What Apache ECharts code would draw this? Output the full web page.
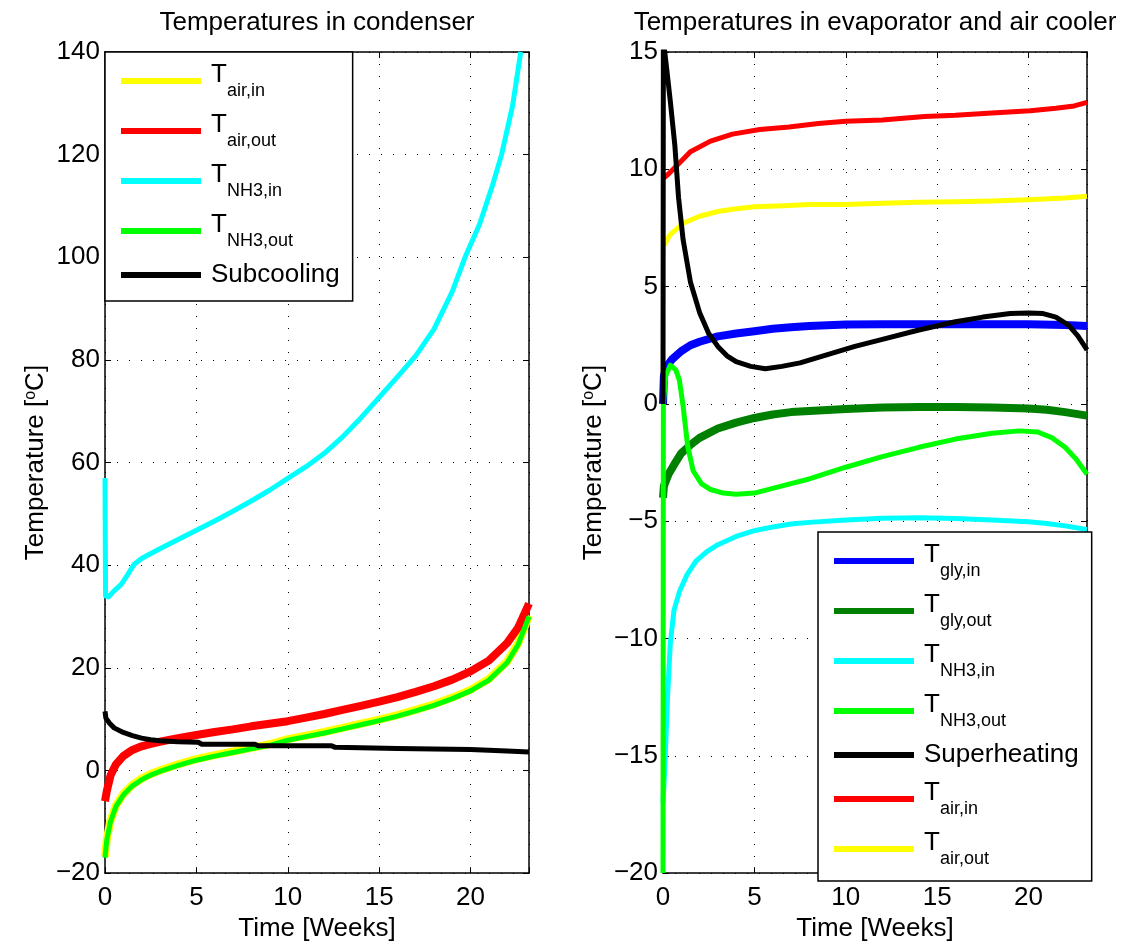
<!DOCTYPE html>
<html>
<head>
<meta charset="utf-8">
<title>Temperatures in condenser / evaporator</title>
<script src="https://cdn.jsdelivr.net/npm/echarts@6/dist/echarts.min.js"></script>
<style>
  html, body { margin: 0; padding: 0; background: #fff; }
  #chart { width: 1130px; height: 947px; }
</style>
</head>
<body>
<div id="chart"></div>
<script>
const FONT = "'Liberation Sans', Arial, Helvetica, sans-serif";

// axes
const weekTicks = [0, 5, 10, 15, 20];
const weekMax = 23.2;
const condRange = [-20, 140, 20];
const evapRange = [-20, 15, 5];

// condenser (left)
const condCyanTime = [0, 0.03, 0.18, 0.5, 0.9, 1.25, 1.6, 2, 3, 4, 5, 6, 7, 8, 9, 10, 11, 12, 13, 14, 15, 16, 17, 18, 19, 19.7, 20.5, 21.2, 21.7, 22.3, 22.75];
const condCyanVals = [57, 34, 33.8, 35, 36.3, 38.2, 40.2, 41.3, 43.2, 45, 46.8, 48.6, 50.5, 52.5, 54.6, 56.9, 59.2, 61.8, 65, 68.7, 72.7, 76.7, 80.8, 86, 93.3, 100, 106.5, 114, 120, 129.5, 140];

const condTime = [0, 0.1, 0.3, 0.6, 1, 1.5, 2, 2.5, 3, 4, 5, 6, 7, 8, 9, 10, 11, 12, 13, 14, 15, 16, 17, 18, 19, 20, 21, 22, 22.6, 23.2];
const condRedVals = [-6, -4, -1, 1.2, 2.8, 4, 4.7, 5.2, 5.6, 6.3, 6.9, 7.5, 8, 8.6, 9.1, 9.6, 10.3, 11, 11.8, 12.6, 13.4, 14.3, 15.3, 16.4, 17.7, 19.3, 21.4, 24.8, 27.8, 32.5];
const condGreenVals = [-17, -13.5, -10, -7, -4.8, -3, -1.8, -0.9, -0.2, 1, 2, 2.8, 3.5, 4.2, 4.9, 5.9, 6.6, 7.3, 8.1, 8.9, 9.7, 10.6, 11.6, 12.7, 14, 15.5, 17.6, 21, 24.5, 30];
const condYellowVals = [-16.8, -13.3, -9.8, -6.8, -4.6, -2.8, -1.6, -0.7, 0, 1.2, 2.2, 3, 3.7, 4.4, 5.1, 6.1, 6.8, 7.5, 8.3, 9.1, 9.9, 10.8, 11.8, 12.9, 14.2, 15.7, 17.8, 21.2, 24.7, 30.2];

const condBlackTime = [0, 0.05, 0.25, 0.5, 1, 1.5, 2, 2.5, 3, 4, 5.1, 5.3, 8.2, 8.4, 12.4, 12.6, 16, 20, 22, 23.2];
const condBlackVals = [11.5, 10.2, 9.2, 8.3, 7.4, 6.8, 6.3, 6, 5.8, 5.6, 5.5, 5.1, 5.1, 4.8, 4.8, 4.5, 4.3, 4.1, 3.8, 3.6];

// evaporator / air cooler (right)
const evBlueTime = [0, 0.05, 0.2, 0.5, 1, 1.5, 2, 3, 4, 5, 6, 7, 8, 10, 12, 14, 16, 18, 20, 22, 23.2];
const evBlueVals = [0, 1.2, 1.6, 1.9, 2.25, 2.5, 2.65, 2.88, 3, 3.1, 3.2, 3.27, 3.32, 3.38, 3.4, 3.4, 3.4, 3.4, 3.4, 3.36, 3.32];

const evDkGreenTime = [0, 0.05, 0.3, 0.6, 1, 1.5, 2, 3, 4, 5, 6, 7, 8, 10, 12, 14, 16, 18, 20, 21, 22, 23.2];
const evDkGreenVals = [-4, -3.5, -3, -2.6, -2.1, -1.75, -1.45, -1.05, -0.8, -0.6, -0.45, -0.35, -0.3, -0.22, -0.15, -0.13, -0.13, -0.15, -0.2, -0.25, -0.35, -0.5];

const evCyanTime = [0, 0.1, 0.25, 0.4, 0.6, 0.9, 1.3, 1.8, 2.4, 3, 4, 5, 6, 7, 8, 10, 12, 14, 16, 18, 20, 21, 22, 23.2];
const evCyanVals = [-17, -15.5, -12.5, -10.2, -8.8, -8, -7.3, -6.7, -6.3, -6, -5.65, -5.4, -5.25, -5.12, -5.05, -4.95, -4.87, -4.85, -4.88, -4.95, -5.02, -5.1, -5.2, -5.35];

const evGreenTime = [0, 0.02, 0.15, 0.4, 0.7, 0.9, 1.1, 1.35, 1.65, 2.1, 2.6, 3.3, 4, 5, 6, 7, 8, 10, 12, 14, 16, 18, 19.5, 20.5, 21.3, 22, 22.6, 23.2];
const evGreenVals = [-20, 0, 1.2, 1.65, 1.45, 1, -0.1, -1.8, -2.85, -3.4, -3.65, -3.8, -3.85, -3.8, -3.6, -3.4, -3.2, -2.7, -2.25, -1.85, -1.5, -1.25, -1.15, -1.2, -1.45, -1.85, -2.35, -3];

const evBlackTime = [0, 0.02, 0.2, 0.4, 0.65, 0.85, 1.1, 1.5, 2, 2.5, 3, 3.5, 4, 4.8, 5.6, 6.5, 7.5, 9, 10.5, 12, 14, 16, 17.5, 19, 20, 20.8, 21.5, 22.2, 22.7, 23.2];
const evBlackVals = [0, 15.5, 14.3, 12.9, 11, 8.8, 7, 5.2, 3.9, 3, 2.45, 2.05, 1.8, 1.6, 1.5, 1.6, 1.75, 2.1, 2.45, 2.75, 3.15, 3.5, 3.7, 3.85, 3.87, 3.85, 3.7, 3.35, 2.9, 2.3];

const evRedTime = [0, 0.3, 0.75, 1.5, 2.6, 3.8, 5.3, 6.9, 8.5, 10, 12, 14.3, 16, 18, 20.1, 21.5, 22.5, 23.2];
const evRedVals = [9.6, 9.8, 10.15, 10.75, 11.2, 11.5, 11.7, 11.8, 11.95, 12.05, 12.1, 12.25, 12.3, 12.4, 12.5, 12.6, 12.7, 12.85];

const evYellowTime = [0, 0.38, 1.1, 2, 3, 3.8, 5, 6.6, 8, 9.9, 12, 14, 16, 18, 20, 22, 23.2];
const evYellowVals = [6.7, 7.2, 7.7, 8, 8.2, 8.3, 8.4, 8.45, 8.5, 8.5, 8.55, 8.6, 8.62, 8.65, 8.7, 8.78, 8.85];

// legend labels: [main text, subscript]
const labels = {
  c_air_in: ['T', 'air,in'],
  c_air_out: ['T', 'air,out'],
  c_nh3_in: ['T', 'NH3,in'],
  c_nh3_out: ['T', 'NH3,out'],
  c_sub: ['Subcooling', ''],
  e_gly_in: ['T', 'gly,in'],
  e_gly_out: ['T', 'gly,out'],
  e_nh3_in: ['T', 'NH3,in'],
  e_nh3_out: ['T', 'NH3,out'],
  e_sup: ['Superheating', ''],
  e_air_in: ['T', 'air,in'],
  e_air_out: ['T', 'air,out'],
};

function pairs(t, v) {
  return t.map((x, i) => [x, v[i]]);
}

function line(name, grid, t, v, color, width) {
  return {
    type: 'line',
    name: name,
    xAxisIndex: grid * 2,
    yAxisIndex: grid * 2,
    data: pairs(t, v),
    symbol: 'none',
    smooth: false,
    clip: true,
    color: color,
    lineStyle: { color: color, width: width, join: 'round' },
    emphasis: { disabled: true },
  };
}

const minus = (v) => String(v).replace('-', '\u2212');

function xAxes(grid) {
  const base = {
    gridIndex: grid, type: 'value', min: 0, max: weekMax, interval: 5,
    axisLine: { show: true, onZero: false, lineStyle: { color: '#000', width: 1.5 } },
    axisTick: { show: true, inside: true, length: 6, lineStyle: { color: '#000', width: 1 } },
  };
  return [
    Object.assign({}, base, {
      position: 'bottom',
      name: 'Time [Weeks]', nameLocation: 'middle', nameGap: 42,
      nameTextStyle: { color: '#000', fontSize: 26, fontFamily: FONT },
      axisLabel: {
        color: '#000', fontSize: 26, fontFamily: FONT, margin: 12,
        formatter: (v) => (weekTicks.includes(v) ? String(v) : ''),
      },
      splitLine: { show: true, lineStyle: { color: '#000', width: 1, type: [1, 11] } },
    }),
    Object.assign({}, base, {
      position: 'top', axisLabel: { show: false }, splitLine: { show: false },
    }),
  ];
}

function yAxes(grid, range) {
  const base = {
    gridIndex: grid, type: 'value', min: range[0], max: range[1], interval: range[2],
    axisLine: { show: true, onZero: false, lineStyle: { color: '#000', width: 1.5 } },
    axisTick: { show: true, inside: true, length: 6, lineStyle: { color: '#000', width: 1 } },
  };
  return [
    Object.assign({}, base, {
      position: 'left',
      name: '{n|Temperature [}{s|o}{n|C]}', nameLocation: 'middle', nameGap: 56,
      nameTextStyle: {
        color: '#000', fontSize: 26, fontFamily: FONT,
        rich: {
          n: { color: '#000', fontSize: 26, fontFamily: FONT },
          s: { color: '#000', fontSize: 16, fontFamily: FONT, verticalAlign: 'top' },
        },
      },
      axisLabel: { color: '#000', fontSize: 26, fontFamily: FONT, margin: 5, formatter: minus },
      splitLine: { show: true, lineStyle: { color: '#000', width: 1, type: [1, 11] } },
    }),
    Object.assign({}, base, {
      position: 'right', axisLabel: { show: false }, splitLine: { show: false },
    }),
  ];
}

const legendRich = {
  T: { color: '#000', fontSize: 26, fontFamily: FONT, verticalAlign: 'top', padding: [0, 0, 0, 5] },
  s: { color: '#000', fontSize: 18, fontFamily: FONT, verticalAlign: 'top', padding: [20, 0, 0, 0] },
  p: { color: '#000', fontSize: 26, fontFamily: FONT, lineHeight: 22, padding: [0, 0, 0, 5] },
};

function legend(left, top, names) {
  return {
    orient: 'vertical', left: left, top: top, align: 'left',
    data: names, icon: 'rect', itemWidth: 80, itemHeight: 6, itemGap: 12,
    padding: [10, 13, 13, 16],
    borderColor: '#000', borderWidth: 1.5, backgroundColor: '#fff',
    selectedMode: false,
    textStyle: { color: '#000', fontSize: 26, fontFamily: FONT, rich: legendRich },
    formatter: (name) => {
      const lab = labels[name];
      return lab[1] ? '{T|' + lab[0] + '}{s|' + lab[1] + '}' : '{p|' + lab[0] + '}';
    },
  };
}

const titleStyle = { color: '#000', fontSize: 26, fontWeight: 'normal', fontFamily: FONT };

const option = {
  animation: false,
  backgroundColor: '#fff',
  title: [
    { text: 'Temperatures in condenser', left: 317, top: 10, textAlign: 'center', padding: 0, textStyle: titleStyle },
    { text: 'Temperatures in evaporator and air cooler', left: 875, top: 10, textAlign: 'center', padding: 0, textStyle: titleStyle },
  ],
  grid: [
    { left: 105, top: 52, width: 424, height: 824 },
    { left: 663, top: 52, width: 424, height: 824 },
  ],
  xAxis: xAxes(0).concat(xAxes(1)),
  yAxis: yAxes(0, condRange).concat(yAxes(1, evapRange)),
  legend: [
    legend(105, 52, ['c_air_in', 'c_air_out', 'c_nh3_in', 'c_nh3_out', 'c_sub']),
    legend(818, 532, ['e_gly_in', 'e_gly_out', 'e_nh3_in', 'e_nh3_out', 'e_sup', 'e_air_in', 'e_air_out']),
  ],
  series: [
    line('c_air_in', 0, condTime, condYellowVals, '#ffff00', 8),
    line('c_air_out', 0, condTime, condRedVals, '#ff0000', 8),
    line('c_nh3_in', 0, condCyanTime, condCyanVals, '#00ffff', 5),
    line('c_nh3_out', 0, condTime, condGreenVals, '#00ff00', 5),
    line('c_sub', 0, condBlackTime, condBlackVals, '#000000', 5),
    line('e_gly_in', 1, evBlueTime, evBlueVals, '#0000ff', 8),
    line('e_gly_out', 1, evDkGreenTime, evDkGreenVals, '#008000', 8),
    line('e_nh3_in', 1, evCyanTime, evCyanVals, '#00ffff', 5),
    line('e_nh3_out', 1, evGreenTime, evGreenVals, '#00ff00', 5),
    line('e_air_in', 1, evRedTime, evRedVals, '#ff0000', 5),
    line('e_air_out', 1, evYellowTime, evYellowVals, '#ffff00', 5),
    line('e_sup', 1, evBlackTime, evBlackVals, '#000000', 5),
  ],
};

const chart = echarts.init(document.getElementById('chart'), null, { renderer: 'canvas' });
chart.setOption(option);
window.addEventListener('resize', () => chart.resize());
</script>
</body>
</html>
